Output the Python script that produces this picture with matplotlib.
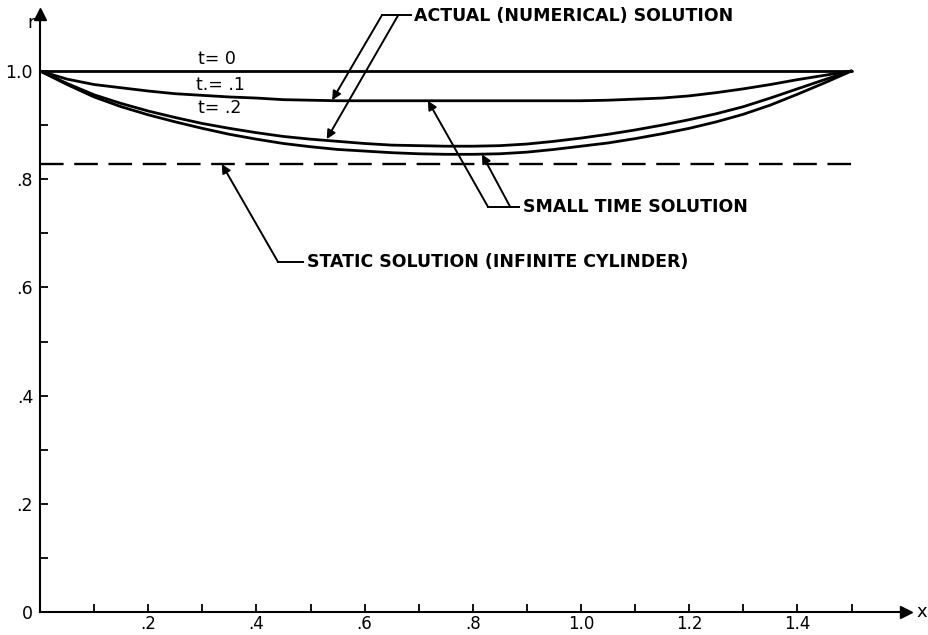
import numpy as np
import matplotlib
matplotlib.use("Agg")
import matplotlib.pyplot as plt

# values
x = [0.0, 0.05, 0.1, 0.15, 0.2, 0.25, 0.3, 0.35, 0.4, 0.45, 0.5, 0.55, 0.6, 0.65, 0.7, 0.75,
     0.8, 0.85, 0.9, 0.95, 1.0, 1.05, 1.1, 1.15, 1.2, 1.25, 1.3, 1.35, 1.4, 1.45, 1.5]
r_t0 = [1.0] * len(x)
r_t1 = [1.0, 0.985, 0.975, 0.969, 0.963, 0.958, 0.955, 0.952, 0.950, 0.947, 0.946, 0.945, 0.945, 0.945, 0.945, 0.945,
        0.945, 0.945, 0.945, 0.945, 0.945, 0.946, 0.948, 0.950, 0.954, 0.960, 0.967, 0.975, 0.984, 0.992, 1.0]
r_t2_actual = [1.0, 0.977, 0.956, 0.940, 0.926, 0.914, 0.903, 0.894, 0.886, 0.879, 0.874, 0.870, 0.866, 0.863, 0.862, 0.861,
               0.861, 0.862, 0.865, 0.870, 0.876, 0.883, 0.891, 0.900, 0.910, 0.921, 0.934, 0.950, 0.967, 0.984, 1.0]
r_t2_small = [1.0, 0.975, 0.952, 0.934, 0.919, 0.906, 0.894, 0.883, 0.874, 0.866, 0.860, 0.855, 0.852, 0.849, 0.847, 0.846,
              0.846, 0.847, 0.850, 0.855, 0.861, 0.867, 0.875, 0.884, 0.894, 0.906, 0.920, 0.937, 0.957, 0.978, 1.0]
r_static = 0.828

x_ticks = [0.1, 0.2, 0.3, 0.4, 0.5, 0.6, 0.7, 0.8, 0.9, 1.0, 1.1, 1.2, 1.3, 1.4, 1.5]
x_tick_labels = ["", ".2", "", ".4", "", ".6", "", ".8", "", "1.0", "", "1.2", "", "1.4", ""]
y_ticks = [0.0, 0.1, 0.2, 0.3, 0.4, 0.5, 0.6, 0.7, 0.8, 0.9, 1.0]
y_tick_labels = ["0", "", ".2", "", ".4", "", ".6", "", ".8", "", "1.0"]

fig = plt.figure(figsize=(9.29, 6.35), dpi=100)
ax = fig.add_axes([40 / 929, 23 / 635, 1.6 * 541 / 929, 1.105 * 541 / 635])
ax.set_xlim(0, 1.6)
ax.set_ylim(0, 1.105)

curve_kw = dict(color="black", lw=2.0, solid_capstyle="round", solid_joinstyle="round")
ax.plot(x, r_t0, **curve_kw)
ax.plot(x, r_t1, **curve_kw)
ax.plot(x, r_t2_actual, **curve_kw)
ax.plot(x, r_t2_small, **curve_kw)
ax.plot([0, 1.5], [r_static, r_static], color="black", lw=1.7, ls=(0, (10, 4.5)))

# axes drawn as arrows
for side in ["top", "right"]:
    ax.spines[side].set_visible(False)
for side in ["left", "bottom"]:
    ax.spines[side].set_linewidth(1.5)
ax.plot(1, 0, ">k", ms=9, transform=ax.transAxes, clip_on=False)
ax.plot(0, 1, "^k", ms=9, transform=ax.transAxes, clip_on=False)
ax.text(1.012, 0, "x", transform=ax.transAxes, fontsize=13, va="center", ha="left")
ax.text(-0.006, 0.985, "r", transform=ax.transAxes, fontsize=13, va="center", ha="right")

ax.set_xticks(x_ticks, x_tick_labels)
ax.set_yticks(y_ticks, y_tick_labels)
ax.tick_params(direction="in", length=6, width=1.3, labelsize=12.5, pad=5)
ax.tick_params(axis="x", labelsize=12, pad=2)

# curve labels
lab_kw = dict(fontsize=12.5, ha="center", va="center")
ax.text(0.327, 1.022, "t= 0", **lab_kw)
ax.text(0.333, 0.974, "t.= .1", **lab_kw)
ax.text(0.333, 0.932, "t= .2", **lab_kw)

# annotations with leader lines
arrow = dict(arrowstyle="-|>", color="black", lw=1.4, mutation_scale=13, shrinkA=0, shrinkB=0)
note_kw = dict(fontsize=12.5, fontweight="bold", va="center", ha="left")
line_kw = dict(color="black", lw=1.4, clip_on=False)

ax.annotate("", xy=(0.540, 0.946), xytext=(0.632, 1.103), arrowprops=arrow, annotation_clip=False)
ax.annotate("", xy=(0.530, 0.874), xytext=(0.662, 1.103), arrowprops=arrow, annotation_clip=False)
ax.plot([0.632, 0.685], [1.103, 1.103], **line_kw)
ax.text(0.691, 1.101, "ACTUAL (NUMERICAL) SOLUTION", clip_on=False, **note_kw)

ax.annotate("", xy=(0.717, 0.945), xytext=(0.828, 0.749), arrowprops=arrow)
ax.annotate("", xy=(0.817, 0.846), xytext=(0.869, 0.749), arrowprops=arrow)
ax.plot([0.828, 0.885], [0.749, 0.749], **line_kw)
ax.text(0.893, 0.749, "SMALL TIME SOLUTION", **note_kw)

ax.annotate("", xy=(0.336, 0.828), xytext=(0.440, 0.647), arrowprops=arrow)
ax.plot([0.440, 0.486], [0.647, 0.647], **line_kw)
ax.text(0.494, 0.647, "STATIC SOLUTION (INFINITE CYLINDER)", **note_kw)

fig.savefig("out.png", dpi=100)
